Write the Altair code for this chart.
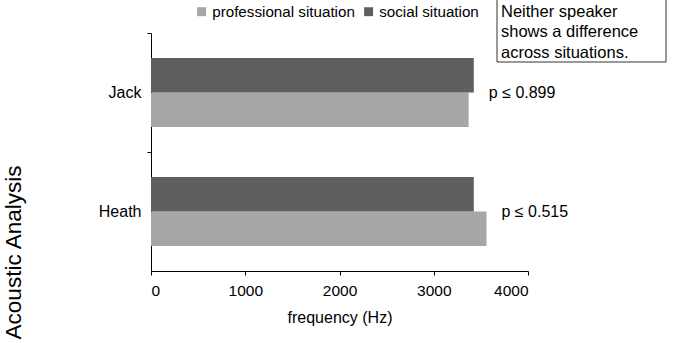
import altair as alt
import pandas as pd

speakers = ["Jack", "Jack", "Heath", "Heath"]
situations = ["professional situation", "social situation",
              "professional situation", "social situation"]
freq = [3370, 3425, 3560, 3425]

p_speakers = ["Jack", "Heath"]
p_labels = ["p \u2264 0.899", "p \u2264 0.515"]
p_anchor = [3425, 3560]

note_text = ["Neither speaker", "shows a difference", "across situations."]

FONT = "Liberation Sans"

df = pd.DataFrame({"speaker": speakers, "situation": situations, "freq": freq})
pdf = pd.DataFrame({"speaker": p_speakers, "label": p_labels, "anchor": p_anchor})
ndf = pd.DataFrame({"text": ["\n".join(note_text)]})

yscale = alt.Scale(domain=["Jack", "Heath"], paddingInner=0.42, paddingOuter=0.21)

bars = alt.Chart(df).mark_bar().encode(
    x=alt.X("freq:Q", scale=alt.Scale(domain=[0, 4000]),
            axis=alt.Axis(values=[0, 1000, 2000, 3000, 4000], format="d",
                          title="frequency (Hz)",
                          grid=False, domainColor="#000", tickColor="#000",
                          tickSize=4, labelFontSize=15.5, labelPadding=8,
                          titleFontSize=16, titleFontWeight="normal", titlePadding=11,
                          labelFont=FONT, titleFont=FONT, labelColor="#000", titleColor="#000")),
    y=alt.Y("speaker:N", scale=yscale,
            axis=alt.Axis(title="Acoustic Analysis", grid=False,
                          tickOffset=-59.5, labelOffset=59.5,
                          domainColor="#000", tickColor="#000", tickSize=4,
                          labelFontSize=16, labelPadding=6, labelFont=FONT, labelColor="#000",
                          titleFont=FONT, titleFontSize=22.5, titleFontWeight="normal",
                          titleColor="#000", titleX=-138, titleY=219, titleAngle=270,
                          titleAlign="center", titleBaseline="middle")),
    yOffset=alt.YOffset("situation:N",
                        sort=["social situation", "professional situation"],
                        scale=alt.Scale(paddingInner=0, paddingOuter=0)),
    color=alt.Color("situation:N",
                    scale=alt.Scale(domain=["professional situation", "social situation"],
                                    range=["#a6a6a6", "#5f5f5f"]),
                    legend=alt.Legend(title=None, orient="none", direction="horizontal",
                                      legendX=43, legendY=-29, symbolType="square",
                                      symbolSize=80, symbolStrokeWidth=0,
                                      labelFontSize=15.2, labelFont=FONT, labelColor="#000",
                                      columnPadding=6, labelOffset=3, labelLimit=0)),
)

ptext = alt.Chart(pdf).mark_text(align="left", baseline="middle", dx=15, fontSize=16,
                                 font=FONT, color="#000").encode(
    x="anchor:Q",
    y=alt.Y("speaker:N", scale=yscale),
    text="label:N",
)

box = alt.Chart(ndf).mark_rect(fill="white", stroke="#333", strokeWidth=1).encode(
    x=alt.value(346), x2=alt.value(515), y=alt.value(-45), y2=alt.value(29),
)

note = alt.Chart(ndf).mark_text(align="left", baseline="middle", fontSize=16.5,
                                font=FONT, color="#000", lineBreak="\n",
                                lineHeight=20.3).encode(
    x=alt.value(350), y=alt.value(-21), text="text:N",
)

chart = alt.layer(bars, ptext, box, note).properties(
    width=377, height=238,
    padding={"left": 151, "top": 33, "right": 145, "bottom": 72},
    autosize=alt.AutoSizeParams(type="none"),
).configure(background="white").configure_view(stroke=None)

chart.save("out.html", embed_options={"renderer": "svg", "actions": False})
